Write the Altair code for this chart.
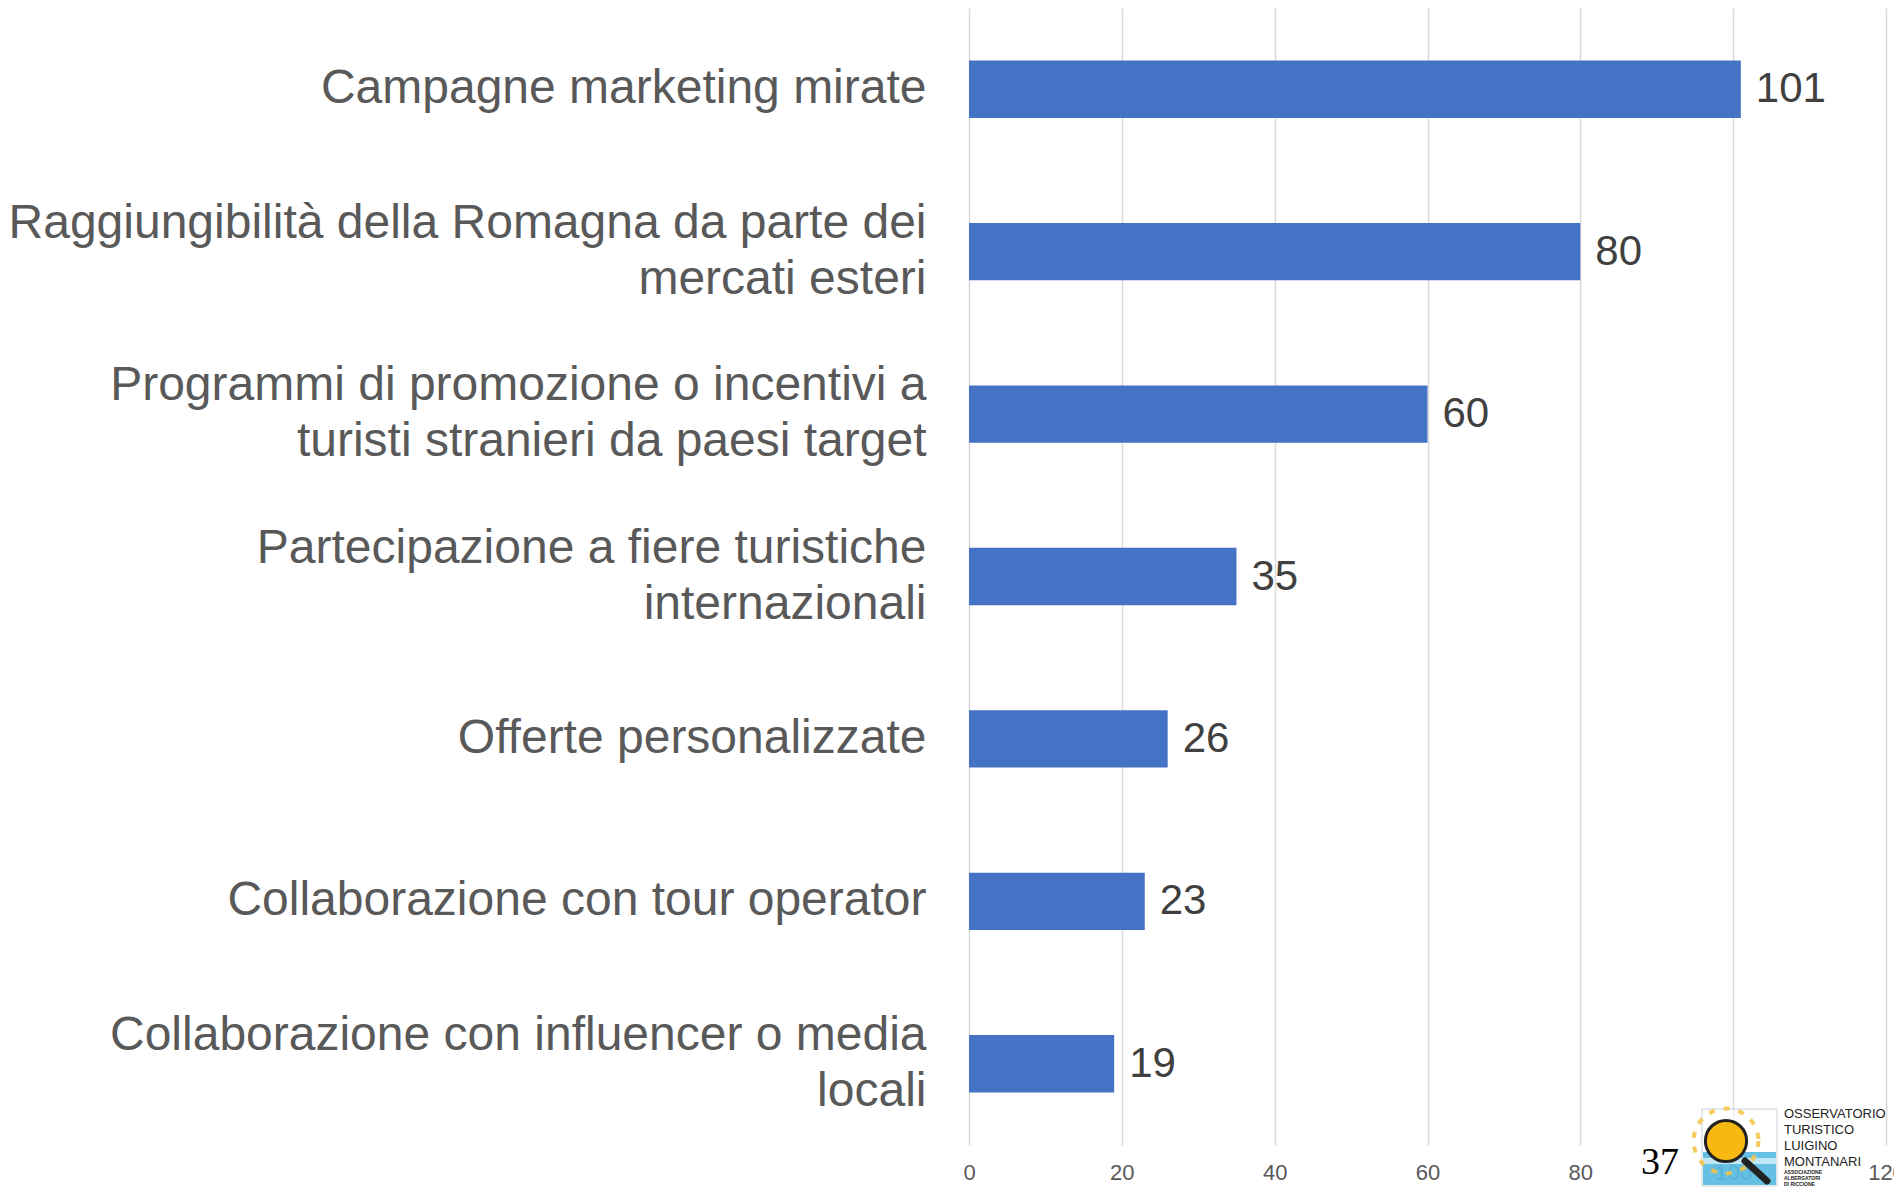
import altair as alt
import pandas as pd

categories = [
    "Campagne marketing mirate",
    "Raggiungibilità della Romagna da parte dei\nmercati esteri",
    "Programmi di promozione o incentivi a\nturisti stranieri da paesi target",
    "Partecipazione a fiere turistiche\ninternazionali",
    "Offerte personalizzate",
    "Collaborazione con tour operator",
    "Collaborazione con influencer o media\nlocali",
]
values = [101, 80, 60, 35, 26, 23, 19]
x_ticks = [0, 20, 40, 60, 80, 100, 120]

logo_lines = ["OSSERVATORIO", "TURISTICO", "LUIGINO", "MONTANARI"]
logo_small = ["ASSOCIAZIONE", "ALBERGATORI", "DI RICCIONE"]
page_number = "37"

df = pd.DataFrame({"categoria": categories, "valore": values})

FONT = "Liberation Sans, Arial"

y_enc = alt.Y(
    "categoria:N",
    sort=categories,
    title=None,
    scale=alt.Scale(paddingInner=0.647, paddingOuter=0.3235),
    axis=alt.Axis(
        labelExpr="split(datum.label, '\\n')",
        labelFont=FONT,
        labelFontSize=48,
        labelColor="#595959",
        labelLineHeight=56,
        labelLimit=2000,
        labelPadding=43,
        labelAlign="right",
        labelBaseline="middle",
        labelOffset=alt.condition("indexof(datum.value, '\\n') >= 0", alt.value(-28), alt.value(0)),
        ticks=False,
        domain=False,
        grid=False,
    ),
)
x_enc = alt.X(
    "valore:Q",
    title=None,
    scale=alt.Scale(domain=[0, 120], nice=False),
    axis=alt.Axis(
        values=x_ticks,
        labelFont=FONT,
        labelFontSize=22,
        labelColor="#595959",
        labelPadding=17,
        labelFlush=False,
        labelOverlap=False,
        ticks=False,
        domain=False,
        grid=True,
        gridColor="#D9D9D9",
        gridWidth=1.5,
    ),
)

base = alt.Chart(df)
bars = base.mark_bar(color="#4472C4").encode(y=y_enc, x=x_enc)
labels = base.mark_text(
    align="left", baseline="middle", dx=15, font=FONT, fontSize=42, color="#404040"
).encode(y=alt.Y("categoria:N", sort=categories), x="valore:Q", text="valore:Q")

# --- decorative footer: page number and logo ---
one = pd.DataFrame({"k": [0]})
page_num = alt.Chart(one).mark_text(
    font="Liberation Serif, Times New Roman", fontSize=38, color="#000000",
    align="center", baseline="middle",
).encode(x=alt.value(691), y=alt.value(1155), text=alt.value(page_number))

logo_bg = alt.Chart(one).mark_rect(color="#ffffff", opacity=0.6, stroke="#9fb7c8", strokeWidth=1).encode(
    x=alt.value(733), x2=alt.value(808), y=alt.value(1101), y2=alt.value(1178)
)
logo_sea = alt.Chart(one).mark_rect(color="#3fb0dd", opacity=0.8).encode(
    x=alt.value(734), x2=alt.value(807), y=alt.value(1144), y2=alt.value(1177)
)
logo_wave = alt.Chart(one).mark_rect(color="#ffffff", opacity=0.6).encode(
    x=alt.value(734), x2=alt.value(807), y=alt.value(1150), y2=alt.value(1156)
)
logo_rays = alt.Chart(one).mark_point(
    shape="circle", size=4200, filled=False, stroke="#f6c54a", strokeWidth=4,
    strokeDash=[6, 9], opacity=0.9,
).encode(x=alt.value(757), y=alt.value(1133))
logo_sun = alt.Chart(one).mark_point(
    shape="circle", size=1700, filled=True, fill="#f7b90f", stroke="#222222",
    strokeWidth=3, opacity=1,
).encode(x=alt.value(757), y=alt.value(1133))
logo_handle = alt.Chart(one).mark_rule(color="#222222", strokeWidth=7, strokeCap="round").encode(
    x=alt.value(776), x2=alt.value(798), y=alt.value(1153), y2=alt.value(1173)
)
logo_text = alt.Chart(one).mark_text(
    font=FONT, fontSize=13, color="#222222", align="left", baseline="top", lineHeight=16,
).encode(x=alt.value(815), y=alt.value(1100), text=alt.value(logo_lines))
logo_small_text = alt.Chart(one).mark_text(
    font=FONT, fontSize=5, fontWeight="bold", color="#222222",
    align="left", baseline="top", lineHeight=6,
).encode(x=alt.value(815), y=alt.value(1162), text=alt.value(logo_small))

chart = alt.layer(
    bars, labels, page_num, logo_bg, logo_sea, logo_wave, logo_rays, logo_sun,
    logo_handle, logo_text, logo_small_text,
).properties(
    width=917,
    height=1137,
    padding={"left": 961, "top": 0, "right": 8, "bottom": 42},
    autosize="none",
    background="#ffffff",
).configure_view(stroke=None)

chart.save("out.html", embed_options={"renderer": "svg", "actions": False})
